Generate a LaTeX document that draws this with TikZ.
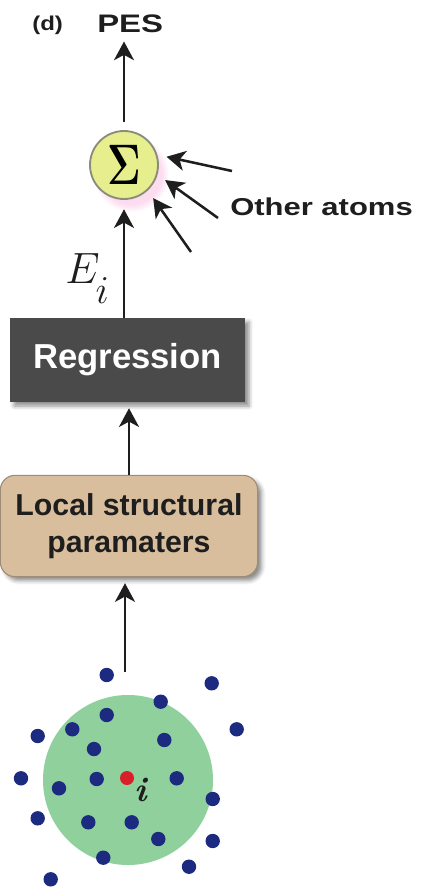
\documentclass[tikz,border=0pt]{standalone}
\usepackage[no-math]{fontspec}
\newfontfamily\sansf{Liberation Sans}
\usetikzlibrary{arrows.meta,shadows.blur,fadings,calc}
\definecolor{sigfill}{HTML}{E6EE8E}
\definecolor{sigline}{HTML}{8C8C7C}
\definecolor{regfill}{HTML}{4A4A4A}
\definecolor{locfill}{HTML}{D8BE9C}
\definecolor{locline}{HTML}{9C8C78}
\definecolor{greenball}{HTML}{8FD09C}
\definecolor{atomblue}{HTML}{1C2A80}
\definecolor{atomred}{HTML}{D8202A}
\definecolor{ink}{HTML}{1E1E1E}
\begin{document}
\begin{tikzpicture}[x=0.75pt,y=-0.75pt,
  flow/.style={draw=ink,line width=1.9pt,-{Stealth[length=14pt,width=15pt,inset=4pt]}},
  lbl/.style={inner sep=0pt,text=ink,font=\sansf\bfseries},
  atom/.style={fill=atomblue},
  boxshadow/.style={blur shadow={shadow xshift=3pt,shadow yshift=-3pt,shadow blur radius=3pt,shadow opacity=45}}]
\useasboundingbox (0,0) rectangle (421,888);
% labels at top
\node[lbl,anchor=base west,font=\sansf\bfseries\fontsize{15}{18}\selectfont] (d) at (32,31) {\scalebox{1.2}[1]{(d)}};
\node[lbl,anchor=base west,font=\sansf\bfseries\fontsize{19}{22}\selectfont] (pes) at (97,33) {\scalebox{1.3}[1]{PES}};
% sum node with glow
\coordinate (sigc) at (124,165);
\fill[magenta!30,opacity=0.45,path fading=circle with fuzzy edge 20 percent] ($(sigc)+(7,9)$) circle (38);
\node[circle,draw=sigline,line width=1.4pt,fill=sigfill,minimum size=51pt,inner sep=0pt] (sig) at (sigc)
  {\Huge\scalebox{1.25}[1.72]{$\mathbf{\Sigma}$}};
\node[lbl,anchor=base west,font=\sansf\bfseries\fontsize{18.3}{22}\selectfont] (oth) at (230,215) {\scalebox{1.27}[1]{Other atoms}};
\coordinate (o1) at (232,171);
\coordinate (o2) at (218,218);
\coordinate (o3) at (191,252);
\draw[flow,shorten >=7pt] (o1) -- (sig.17);
\draw[flow,shorten >=7pt] (o2) -- (sig.-16);
\draw[flow,shorten >=7pt] (o3) -- (sig.-47);
% E_i
\node[inner sep=0pt,anchor=base west,text=ink] (ei) at (65,283)
  {\Huge\scalebox{1.32}{$E$}\kern-3pt\raisebox{-15pt}{\scalebox{1.19}{$i$}}};
% regression box
\node[rectangle,fill=regfill,minimum width=176.25pt,minimum height=63pt,inner sep=0pt,boxshadow,
  text=white,font=\sansf\bfseries\fontsize{26}{30}\selectfont] (reg) at (127.5,360) {Regression};
% local structural parameters box
\node[rectangle,rounded corners=11pt,draw=locline,line width=0.8pt,fill=locfill,minimum width=193pt,minimum height=76pt,
  inner sep=0pt,boxshadow,align=center,text=ink,font=\sansf\bfseries\fontsize{22.7}{27.75}\selectfont] (loc) at (129,526)
  {Local structural\\paramaters};
% arrows
\draw[flow,shorten <=6pt,shorten >=6pt] (sig.north) -- (sig |- pes.south);
\draw[flow,shorten >=7pt] (reg.north -| sig.south) -- (sig.south);
\draw[flow,shorten >=4.5pt] (loc.north) -- (loc.north |- reg.south);
\coordinate (a0) at (125,672);
\draw[flow,shorten >=4.5pt] (a0) -- (a0 |- loc.south);
% local environment
\node[circle,fill=greenball,minimum size=127.5pt,inner sep=0pt] (env) at (128,780) {};
\foreach \x/\y [count=\k] in {106.7/675,211.7/683.3,160.7/701.7,106.7/715,236.7/729.3,37.7/736,72.3/729.3,164.3/740,94/749,21/778.3,96.7/779,176.7/778.3,59/788.3,212.7/799,37.7/818.3,88.3/822.3,131.7/822.3,158.3/839,212.7/841,103.3/857.7,189/866.7,50.7/879.3}
  \fill[atom] (\x,\y) circle (7.2);
\node[circle,fill=atomred,minimum size=10.5pt,inner sep=0pt] (ctr) at (127,778) {};
\node[inner sep=0pt,anchor=base west,text=ink] (ilab) at (134,801) {\fontsize{26}{26}\selectfont\bfseries\itshape i};
\end{tikzpicture}
\end{document}
